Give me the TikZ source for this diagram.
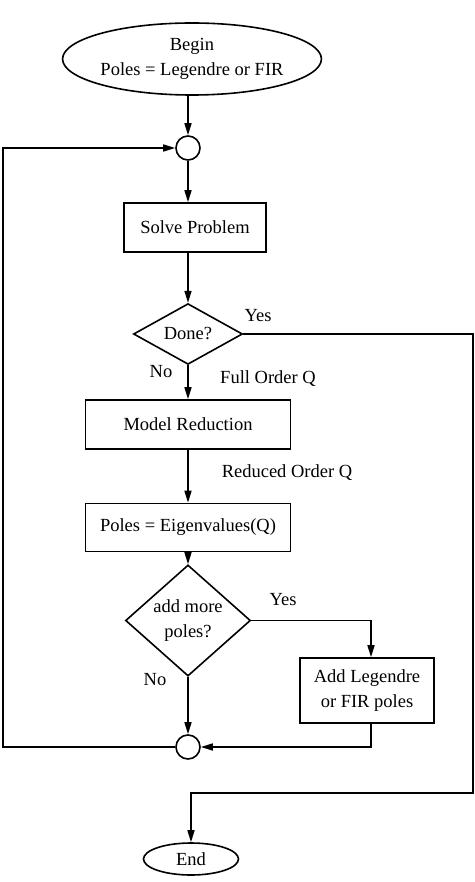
\documentclass[tikz,border=0pt]{standalone}
\usepackage{fontspec}
\setmainfont{Liberation Serif}
\usetikzlibrary{shapes.geometric,arrows.meta}
\begin{document}
\begin{tikzpicture}[x=1pt,y=-1pt,
  every node/.style={font=\fontsize{18.5}{25}\selectfont},
  line/.style={line width=1.6pt},
  arr/.style={line, -{Triangle[length=12pt,width=7pt]}},
  term/.style={ellipse, draw, line width=1.6pt, inner sep=0pt, align=center},
  proc/.style={rectangle, draw, line width=1.6pt, inner sep=0pt, align=center},
  junc/.style={circle, draw, line width=1.6pt, inner sep=0pt, minimum size=24pt},
  dec/.style={diamond, draw, line width=1.6pt, inner sep=0pt, align=center},
  lab/.style={inner sep=0pt}]
\useasboundingbox (0,0) rectangle (474,882);

% nodes
\node[term, minimum width=195pt, minimum height=72pt] (begin) at (192,59) {Begin\\Poles = Legendre or FIR};
\node[junc] (c1) at (188,148) {};
\node[proc, minimum width=142pt, minimum height=49pt] (solve) at (195,227.5) {Solve Problem};
\node[dec, minimum width=109pt, minimum height=56pt] (done) at (188,334) {Done?};
\node[proc, minimum width=205pt, minimum height=49pt] (model) at (188,424.5) {Model Reduction};
\node[proc, minimum width=205pt, minimum height=48pt] (eig) at (188,527.5) {Poles = Eigenvalues(Q)};
\node[dec, minimum width=125pt, minimum height=77pt] (more) at (188,620.5) {add more\\poles?};
\node[proc, minimum width=134pt, minimum height=65pt] (add) at (367,690.5) {Add Legendre\\or FIR poles};
\node[junc] (c2) at (188,747) {};
\node[term, minimum width=95pt, minimum height=32pt] (endn) at (191,859) {End};

% labels
\node[lab] (lyes1) at (258,316) {Yes};
\node[lab] (lno1) at (161,372) {No};
\node[lab] (lfull) at (268,379) {Full Order Q};
\node[lab] (lred) at (287,473) {Reduced Order Q};
\node[lab] (lyes2) at (283,600) {Yes};
\node[lab] (lno2) at (155,680) {No};

% helper coordinates
\coordinate (r1) at (473,334);
\coordinate (r2) at (473,793);
\coordinate (r3) at (191,793);
\coordinate (l1) at (3,747);
\coordinate (l2) at (3,148);
\coordinate (a1) at (371,620.5);
\coordinate (a2) at (371,747);

% connectors
\draw[arr] (begin.south -| c1) -- (c1.north);
\draw[arr] (c1.south) -- (c1.south |- solve.north);
\draw[arr] (solve.south -| done) -- (done.north);
\draw[arr] (done.south) -- (model.north);
\draw[arr] (model.south) -- (eig.north);
\draw[arr] (eig.south) -- (more.north);
\draw[arr] (more.south) -- (c2.north);
\draw[arr] (more.east) -- (a1) -- (add.north -| a1);
\draw[arr] (add.south -| a2) -- (a2) -- (c2.east);
\draw[arr] (c2.west) -- (l1) -- (l2) -- (c1.west);
\draw[arr] (done.east) -- (r1) -- (r2) -- (r3) -- (endn.north);
\end{tikzpicture}
\end{document}
